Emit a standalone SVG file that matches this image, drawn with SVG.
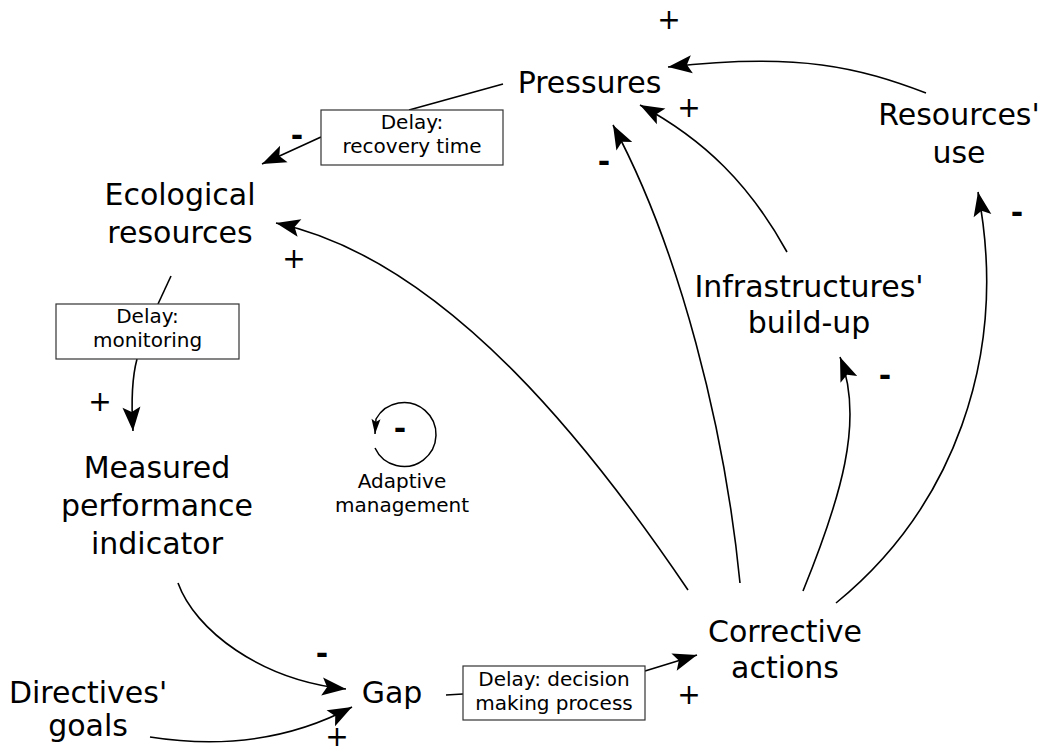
<svg xmlns="http://www.w3.org/2000/svg" width="1042" height="753" viewBox="0 0 1042 753">
<style>
text{font-family:"DejaVu Sans",Verdana,sans-serif;fill:#000}
.n{font-size:30px;text-anchor:middle}
.s{font-size:20px;text-anchor:middle}
.plus{font-size:28px;text-anchor:middle}
.minus{font-size:30px;font-weight:bold;text-anchor:middle}
.c{fill:none;stroke:#000;stroke-width:1.6}
.a{marker-end:url(#arr)}
.box{fill:#fff;stroke:#333;stroke-width:1.2}
</style>
<defs>
<marker id="arr" markerUnits="userSpaceOnUse" markerWidth="30" markerHeight="24" viewBox="-2 -12 30 24" refX="24" refY="0" orient="auto">
<path d="M24,0 L0,-9 L5,0 L0,9 Z" fill="#000"/>
</marker>
<marker id="arrs" markerUnits="userSpaceOnUse" markerWidth="18" markerHeight="12" viewBox="-1 -6 18 12" refX="15" refY="0" orient="auto">
<path d="M15,0 L0,-4.5 L3,0 L0,4.5 Z" fill="#000"/>
</marker>
</defs>
<rect width="1042" height="753" fill="#fff"/>

<g id="connectors">
<path class="c a" d="M926,93 C860,68 800,52 668,67"/>
<path class="c a" d="M787,252 C750,185 705,140 640,105"/>
<path class="c a" d="M740,583 C725,430 680,250 613,125"/>
<path class="c a" d="M688,590 C600,460 450,260 276,223"/>
<path class="c a" d="M803,591 C840,500 865,420 840,357"/>
<path class="c a" d="M836,603 C950,510 1010,360 978,192"/>
<path class="c" d="M503,84 L409,110"/>
<path class="c a" d="M321,137 L262,164"/>
<path class="c" d="M171,276 L158,304"/>
<path class="c a" d="M137,359 Q130,385 133,431"/>
<path class="c a" d="M178,583 C195,630 260,680 346,689"/>
<path class="c a" d="M150,737 C220,748 290,740 352,707"/>
<path class="c" d="M446,695 L463,694"/>
<path class="c a" d="M645,671 L697,655"/>
</g>

<g id="loop">
<path d="M375,448 A32,32 0 1,0 376,419 L375,434" fill="none" stroke="#000" stroke-width="1.5" marker-end="url(#arrs)"/>
<text class="minus" x="400" y="439">-</text>
<text class="s" x="402" y="488">Adaptive</text>
<text class="s" x="402" y="512">management</text>
</g>

<g id="pressures"><text class="n" x="589.5" y="93">Pressures</text></g>
<g id="resources-use"><text class="n" x="959" y="125">Resources'</text><text class="n" x="959" y="163">use</text></g>
<g id="ecological-resources"><text class="n" x="180" y="205">Ecological</text><text class="n" x="180" y="243">resources</text></g>
<g id="infrastructures"><text class="n" x="809" y="297">Infrastructures'</text><text class="n" x="809" y="333">build-up</text></g>
<g id="measured-indicator"><text class="n" x="157" y="478">Measured</text><text class="n" x="157" y="516">performance</text><text class="n" x="157" y="554">indicator</text></g>
<g id="directives-goals"><text class="n" x="88" y="703">Directives'</text><text class="n" x="88" y="736">goals</text></g>
<g id="gap"><text class="n" x="392" y="703">Gap</text></g>
<g id="corrective-actions"><text class="n" x="785" y="642">Corrective</text><text class="n" x="785" y="678">actions</text></g>

<g id="delay-recovery">
<rect class="box" x="321" y="110" width="182" height="55"/>
<text class="s" x="412" y="129">Delay:</text>
<text class="s" x="412" y="153">recovery time</text>
</g>
<g id="delay-monitoring">
<rect class="box" x="56" y="304" width="183" height="55"/>
<text class="s" x="147.5" y="323">Delay:</text>
<text class="s" x="147.5" y="347">monitoring</text>
</g>
<g id="delay-decision">
<rect class="box" x="463" y="666" width="182" height="54"/>
<text class="s" x="554" y="686">Delay: decision</text>
<text class="s" x="554" y="710">making process</text>
</g>

<g id="signs">
<text class="plus" x="669" y="29">+</text>
<text class="plus" x="689" y="117">+</text>
<text class="plus" x="294" y="268">+</text>
<text class="plus" x="100" y="411">+</text>
<text class="plus" x="689" y="704">+</text>
<text class="plus" x="337" y="746">+</text>
<text class="minus" x="297" y="146">-</text>
<text class="minus" x="604" y="172">-</text>
<text class="minus" x="1017" y="223">-</text>
<text class="minus" x="885" y="386">-</text>
<text class="minus" x="322" y="664">-</text>
</g>
</svg>
